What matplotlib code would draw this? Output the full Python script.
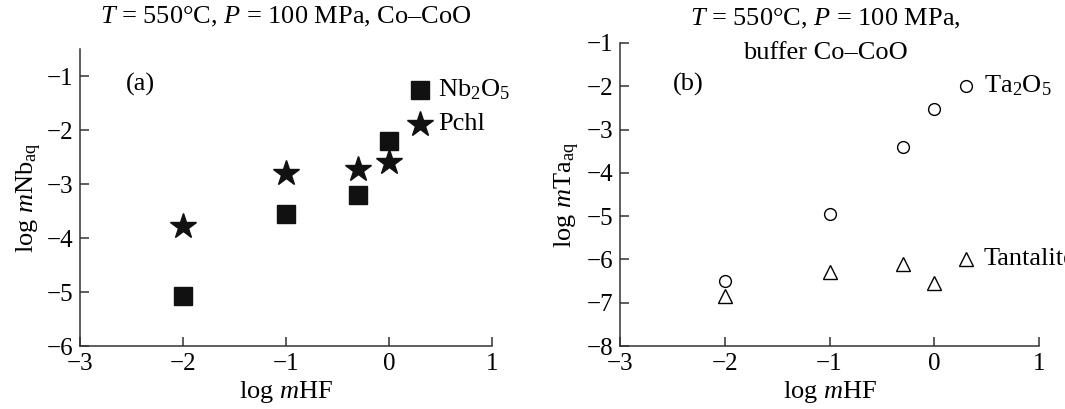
import numpy as np
import matplotlib
matplotlib.use("Agg")
import matplotlib.pyplot as plt

plt.rcParams["font.family"] = "Liberation Serif"
plt.rcParams["mathtext.fontset"] = "custom"
plt.rcParams["mathtext.rm"] = "Liberation Serif"
plt.rcParams["mathtext.it"] = "Liberation Serif:italic"
plt.rcParams["font.size"] = 19

# log mHF
log_hf = [-2, -1, -0.3, 0, 0.3]

# panel (a), log mNb_aq
nb2o5 = [-5.08, -3.56, -3.20, -2.21, -1.26]
pchl = [-3.78, -2.80, -2.72, -2.59, -1.88]

# panel (b), log mTa_aq
ta2o5 = [-6.50, -4.95, -3.40, -2.53, -1.99]
tantalite = [-6.85, -6.30, -6.10, -6.55, -6.00]

fig = plt.figure(figsize=(10.65, 4.09), dpi=100)
ax1 = fig.add_axes([80 / 1065, 0.154, 412 / 1065, 0.726])
ax2 = fig.add_axes([620 / 1065, 0.154, 419 / 1065, 0.741])

def style(ax):
    for s in ["left", "bottom"]:
        ax.spines[s].set_color("#333333")
        ax.spines[s].set_linewidth(1.1)
    ax.spines["top"].set_visible(False)
    ax.spines["right"].set_visible(False)
    ax.tick_params(direction="in", length=6.5, width=1.1, color="#333333",
                   labelsize=18)
    ax.tick_params(axis="y", pad=5)
    ax.tick_params(axis="x", pad=5)
    ax.set_xlim(-3, 1)
    ax.set_xticks([-3, -2, -1, 0, 1])
    ax.set_xlabel(r"$\log\,m\mathrm{HF}$", fontsize=19, labelpad=3)

# (a)
ax1.plot(log_hf, nb2o5, "s", color="#111111", ms=13, ls="none")
ax1.plot(log_hf, pchl, "*", color="#111111", ms=19, ls="none")
ax1.annotate(r"Nb$_2$O$_5$", (log_hf[-1], nb2o5[-1]), xytext=(13, 0),
             textcoords="offset points", va="center", fontsize=19)
ax1.annotate("Pchl", (log_hf[-1], pchl[-1]), xytext=(13, 0),
             textcoords="offset points", va="center", fontsize=19)
style(ax1)
ax1.set_ylim(-6, -0.5)
ax1.set_yticks([-6, -5, -4, -3, -2, -1])
ax1.set_ylabel(r"$\log\,m\mathrm{Nb}_{\mathrm{aq}}$", fontsize=19, labelpad=2)
fig.text(140 / 1065, 1 - 84 / 409, "(a)", ha="center", va="center", fontsize=19)
fig.text(286 / 1065, 1 - 17 / 409, r"$T$ = 550°C, $P$ = 100 MPa, Co–CoO",
         ha="center", va="center", fontsize=19)

# (b)
ax2.plot(log_hf, ta2o5, "o", mfc="white", mec="black", mew=1, ms=8.5, ls="none")
ax2.plot(log_hf, tantalite, "^", mfc="white", mec="black", mew=1, ms=10, ls="none")
ax2.annotate(r"Ta$_2$O$_5$", (log_hf[-1], ta2o5[-1]), xytext=(13, 0),
             textcoords="offset points", va="center", fontsize=19)
ax2.annotate("Tantalite", (log_hf[-1], tantalite[-1]), xytext=(13, 0),
             textcoords="offset points", va="center", fontsize=19,
             annotation_clip=False)
style(ax2)
ax2.set_ylim(-8, -1)
ax2.set_yticks([-8, -7, -6, -5, -4, -3, -2, -1])
ax2.set_ylabel(r"$\log\,m\mathrm{Ta}_{\mathrm{aq}}$", fontsize=19, labelpad=3)
fig.text(688 / 1065, 1 - 84 / 409, "(b)", ha="center", va="center", fontsize=19)
fig.text(825 / 1065, 1 - 19 / 409, r"$T$ = 550°C, $P$ = 100 MPa,",
         ha="center", va="center", fontsize=19)
fig.text(825 / 1065, 1 - 53 / 409, "buffer Co–CoO",
         ha="center", va="center", fontsize=19)

fig.savefig("out.png", dpi=100)
